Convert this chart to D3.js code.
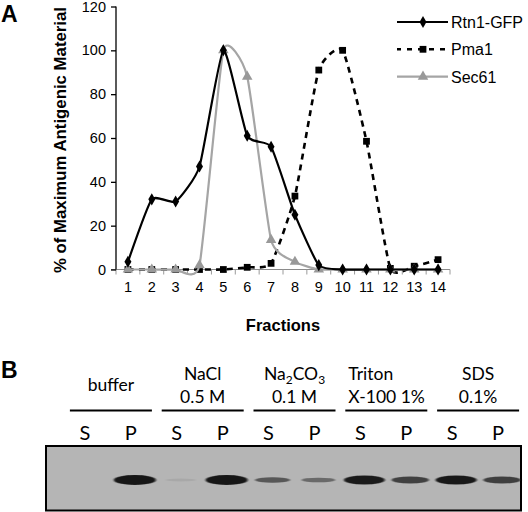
<!DOCTYPE html>
<html><head><meta charset="utf-8">
<script src="https://cdn.jsdelivr.net/npm/d3@7"></script>
<style>body{margin:0;background:#fff}</style>
</head><body><svg id="c" width="528" height="512"></svg>
<script>
// ---- Panel A data ----
const fractions = [1,2,3,4,5,6,7,8,9,10,11,12,13,14];
const rtn1  = [3.5,32,31,47,100,61,56,25,2,0,0,0,0,0];
const pma1  = [0,0,0,0,0,1,2.8,33.5,91,100,58.5,0.5,1.5,4.5];
const sec61 = [0,0,0,2,100,88,13.5,3.5,0,0,0,0,0,0];
const yTicks = [0,20,40,60,80,100,120];
const seriesNames = ["Rtn1-GFP","Pma1","Sec61"];
const xTitle = "Fractions";
const yTitle = "% of Maximum Antigenic Material";

// ---- Panel B data ----
const treatments = [["buffer"],["NaCl","0.5 M"],["Na_2CO_3","0.1 M"],["Triton","X-100 1%"],["SDS","0.1%"]];
const lanes = ["S","P","S","P","S","P","S","P","S","P"];
const bandIntensity = [0,1.0,0.03,1.0,0.42,0.28,0.9,0.6,0.92,0.62];

const svg = d3.select("#c");
const F = "'Liberation Sans', Arial, sans-serif";
const G = "Lato, 'Open Sans', sans-serif";

// scales
const x = d3.scaleBand().domain(fractions).range([116,450]);
const cx = f => x(f) + x.bandwidth()/2;
const y = d3.scaleLinear().domain([0,120]).range([269.5,6.5]);

// panel labels
svg.append("text").attr("x",1).attr("y",22).attr("font-family",F).attr("font-weight","bold").attr("font-size",23).text("A");
svg.append("text").attr("x",1).attr("y",378).attr("font-family",F).attr("font-weight","bold").attr("font-size",23).text("B");

// x axis line + ticks at band boundaries
const xa = svg.append("g");
xa.append("line").attr("x1",111).attr("x2",450).attr("y1",y(0)).attr("y2",y(0)).attr("stroke","#8a8a8a").attr("stroke-width",1.2);
const bounds = fractions.map(f=>x(f)).concat([x(14)+x.bandwidth()]);
xa.selectAll("line.t").data(bounds).join("line").attr("class","t")
  .attr("x1",d=>d).attr("x2",d=>d).attr("y1",y(0)).attr("y2",y(0)+5).attr("stroke","#9a9a9a");
xa.selectAll("text").data(fractions).join("text")
  .attr("x",d=>cx(d)).attr("y",292).attr("text-anchor","middle")
  .attr("font-family",F).attr("font-size",14.5).text(d=>d);

// y axis
const ya = svg.append("g").attr("transform","translate(116,0)")
  .call(d3.axisLeft(y).tickValues(yTicks).tickSize(5).tickPadding(5));
ya.select(".domain").attr("stroke","#000").attr("stroke-width",1.3).attr("d",`M0,${y(0)}V${y(120)}`);
ya.selectAll(".tick line").attr("stroke","#000").attr("stroke-width",1.3);
ya.selectAll(".tick text").attr("font-family",F).attr("font-size",14.5).attr("fill","#000");

// titles
svg.append("text").attr("x",283).attr("y",331).attr("text-anchor","middle")
  .attr("font-family",F).attr("font-weight","bold").attr("font-size",16.5).text(xTitle);
svg.append("text").attr("transform","translate(66,140) rotate(-90)").attr("text-anchor","middle")
  .attr("font-family",F).attr("font-weight","bold").attr("font-size",16.8).text(yTitle);

// series
const curve = d3.curveCardinal.tension(0.5);
const line = d3.line().x((d,i)=>cx(fractions[i])).y(d=>y(d)).curve(curve);
const series = [
  {name:seriesNames[0], vals:rtn1, color:"#000", dash:null, sym:d3.symbolDiamond, size:42, mcolor:"#000"},
  {name:seriesNames[1], vals:pma1, color:"#000", dash:"6,5", sym:d3.symbolSquare, size:46, mcolor:"#000"},
  {name:seriesNames[2], vals:sec61, color:"#a5a5a5", dash:null, sym:d3.symbolTriangle, size:48, mcolor:"#999"}
];
[series[1], series[2], series[0]].forEach(s=>{
  const g = svg.append("g");
  g.append("path").attr("d",line(s.vals)).attr("fill","none").attr("stroke",s.color)
    .attr("stroke-width",s.dash?2.6:2.2).attr("stroke-dasharray",s.dash);
  g.selectAll("path.m").data(s.vals).join("path").attr("class","m")
    .attr("d",d3.symbol().type(s.sym).size(s.size))
    .attr("transform",(d,i)=>`translate(${cx(fractions[i])},${y(d)})`)
    .attr("fill",s.mcolor);
});

// legend
const lg = svg.append("g");
series.forEach((s,i)=>{
  const ly = 22 + i*27.3;
  lg.append("line").attr("x1",397).attr("x2",448).attr("y1",ly).attr("y2",ly)
    .attr("stroke",s.color).attr("stroke-width",s.dash?2.6:2.2).attr("stroke-dasharray",s.dash?"5,6":null)
    .attr("stroke-dashoffset",s.dash?1:0);
  lg.append("path").attr("d",d3.symbol().type(s.sym).size(s.size)).attr("transform",`translate(423,${ly})`).attr("fill",s.mcolor);
  lg.append("text").attr("x",451).attr("y",ly+6).attr("font-family",F).attr("font-size",16).text(s.name);
});

// ---- Panel B ----
const laneIdx = lanes.map((d,i)=>i);
const lx = d3.scaleBand().domain(laneIdx).range([62,521]);
const lc = i => lx(i) + lx.bandwidth()/2;
const b = svg.append("g");

const defs = svg.append("defs");
defs.append("filter").attr("id","blur").attr("x","-20%").attr("y","-100%").attr("width","140%").attr("height","300%")
  .append("feGaussianBlur").attr("stdDeviation","1.2 0.7");
b.append("rect").attr("x",46).attr("y",446).attr("width",475).attr("height",64.5)
  .attr("fill","#b5b5b5").attr("stroke","#000").attr("stroke-width",2);

// bands
b.selectAll("ellipse").data(bandIntensity).join("ellipse")
  .attr("cx",(d,i)=>lc(i)+4).attr("cy",480)
  .attr("rx",d=>15+6*d).attr("ry",d=>1.3+3.6*d)
  .attr("fill","#151515").attr("opacity",d=>d<0.1?d*2.5:Math.min(1,0.25+d*0.8))
  .attr("filter","url(#blur)");

// lane labels
b.selectAll("text.lane").data(lanes).join("text").attr("class","lane")
  .attr("x",(d,i)=>lc(i)).attr("y",440).attr("text-anchor","middle")
  .attr("font-family",G).attr("font-size",20).text(d=>d);

// treatment headers
treatments.forEach((t,gi)=>{
  const mid = (lc(gi*2)+lc(gi*2+1))/2 + 3;
  const x1 = mid-41, x2 = mid+41;
  b.append("line").attr("x1",x1).attr("x2",x2).attr("y1",410.5).attr("y2",410.5).attr("stroke","#000").attr("stroke-width",1.8);
  const left = t[0]==="Triton";
  t.forEach((s,li)=>{
    const yy = t.length===1 ? 391 : (li===0 ? 380 : 403);
    const tx = b.append("text").attr("x",left?x1+3:mid).attr("y",yy)
      .attr("text-anchor",left?"start":"middle").attr("font-family",G).attr("font-size",17.5);
    let sub = false;
    s.split(/(_\d)/).filter(p=>p).forEach(p=>{
      if(p[0]==="_"){ tx.append("tspan").attr("font-size",12).attr("dy",4).text(p.slice(1)); sub = true; }
      else { tx.append("tspan").attr("dy",sub?-4:0).text(p); sub = false; }
    });
  });
});
</script></body></html>
